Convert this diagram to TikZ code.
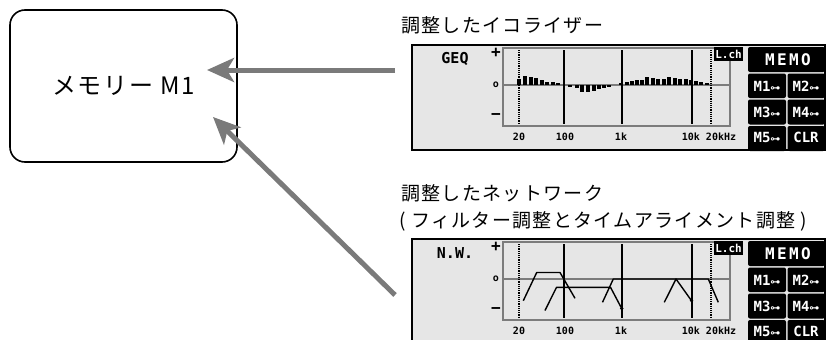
\documentclass[tikz,border=0pt]{standalone}
\usepackage{fontspec}
\newfontfamily\jp{Noto Sans CJK JP}
\newfontfamily\lcd{DejaVu Sans Mono}
\newfontfamily\symf{DejaVu Sans}
\usetikzlibrary{arrows.meta}
\definecolor{panelbg}{HTML}{E6E6E6}
\definecolor{axisgray}{HTML}{7C7C7C}
\definecolor{arrowgray}{HTML}{7A7A7A}
\tikzset{
  lbl/.style={font=\jp\fontsize{19}{23}\selectfont\addfontfeature{LetterSpace=7}, inner sep=0pt, anchor=west},
  memnode/.style={draw=black, line width=1.6pt, rounded corners=15pt, minimum width=227pt, minimum height=152pt,
    font=\jp\fontsize{24}{28}\selectfont\addfontfeature{LetterSpace=7}, inner sep=0pt},
  conn/.style={draw=arrowgray, line width=5pt, -{Stealth[length=27pt,width=24pt,inset=7pt]}},
  panelbox/.style={draw=black, line width=1.5pt, fill=panelbg},
  graphbox/.style={draw=axisgray, line width=1.2pt},
  vline/.style={draw=black, line width=1.3pt},
  dotline/.style={draw=black, line width=1.2pt, dash pattern=on 1.1pt off 1.1pt},
  lcdtitle/.style={font=\lcd\bfseries\fontsize{15}{17}\selectfont, inner sep=0pt},
  lcdaxis/.style={font=\lcd\bfseries\fontsize{16}{18}\selectfont, inner sep=0pt},
  lcdfreq/.style={font=\lcd\bfseries\fontsize{10}{12}\selectfont, inner sep=0pt},
  btn/.style={fill=black, rounded corners=2pt},
  btntxt/.style={text=white, font=\lcd\bfseries\fontsize{14}{16}\selectfont, inner sep=0pt},
  memotxt/.style={text=white, font=\lcd\bfseries\fontsize{16}{18}\selectfont\addfontfeature{LetterSpace=15}, inner sep=0pt},
  lchnode/.style={fill=black, text=white, font=\lcd\bfseries\fontsize{11}{13}\selectfont, inner sep=0pt,
    minimum width=29pt, minimum height=14pt},
  curve/.style={draw=black, line width=1.4pt, line join=round},
}
\newcommand\ico{{\symf\fontsize{10}{10}\selectfont ⊶}}
\newcommand\lcdpanel[3]{%
\begin{scope}[yshift=-#3pt]
  \draw[panelbox] (412,45) rectangle (825,150);
  \draw[graphbox] (503,48) rectangle (730,126);
  \draw[draw=axisgray, line width=1.2pt] (503,85) -- (730,85);
  \draw[dotline] (519,50) -- (519,124);
  \draw[dotline] (711,50) -- (711,124);
  \draw[vline] (564,50) -- (564,124);
  \draw[vline] (622,50) -- (622,124);
  \draw[vline] (692,50) -- (692,124);
  \node[lcdtitle] (#1-title) at (455,59) {#2};
  \node[lcdaxis] (#1-plus) at (496,53) {+};
  \node[lcdfreq] (#1-zero) at (496,85) {o};
  \node[lcdaxis] (#1-minus) at (496,117) {−};
  \node[lcdfreq] (#1-f20) at (519,137) {20};
  \node[lcdfreq] (#1-f100) at (565,137) {100};
  \node[lcdfreq] (#1-f1k) at (621,137) {1k};
  \node[lcdfreq] (#1-f10k) at (709,137) {10k 20kHz};
  \node[lchnode] (#1-lch) at (728.5,54) {L.ch};
  \fill[btn] (748,47) rectangle (825,72);
  \fill[btn] (748,73.5) rectangle (786,98);
  \fill[btn] (787.5,73.5) rectangle (825,98);
  \fill[btn] (748,99.5) rectangle (786,124.5);
  \fill[btn] (787.5,99.5) rectangle (825,124.5);
  \fill[btn] (748,126) rectangle (786,151);
  \fill[btn] (787.5,126) rectangle (825,151);
  \node[memotxt] (#1-memo) at (788,59.5) {MEMO};
  \node[btntxt] (#1-m1) at (767,86) {M1\ico};
  \node[btntxt] (#1-m2) at (806,86) {M2\ico};
  \node[btntxt] (#1-m3) at (767,112) {M3\ico};
  \node[btntxt] (#1-m4) at (806,112) {M4\ico};
  \node[btntxt] (#1-m5) at (767,137.5) {M5\ico};
  \node[btntxt] (#1-clr) at (806,137.5) {CLR};
\end{scope}}
\begin{document}
\begin{tikzpicture}[x=1pt,y=-1pt]
\useasboundingbox (0,0) rectangle (833,340);
\clip (0,0) rectangle (833,340);
% memory box
\node[memnode] (mem) at (123.5,86) {メモリー M1};
% captions
\node[lbl] (geqcap) at (401,25) {調整したイコライザー};
\node[lbl] (nwcap1) at (401,193) {調整したネットワーク};
\node[lbl] (nwcap2) at (399,221) {( フィルター調整とタイムアライメント調整 )};
% panels
\lcdpanel{geq}{GEQ}{0}
\lcdpanel{nw}{N.W.}{194}
% GEQ bars
\foreach \x/\h in {519/5.7,525.3/9,530.7/8.3,536.3/6.7,541.7/5,547/3.3,553/2.7,558.3/2.3,
  570/-1.7,576.7/-3.3,582.3/-6.7,588.3/-6.7,594/-6,599/-4.3,604/-2.7,608.7/-1.7,
  621/1.7,626.7/3,631.7/4,636.7/4.7,642/5,647.3/8.3,653/7.3,658.3/5.7,663.7/5.7,669.3/8,
  675/7.3,680.3/5.7,685.7/5.7,691/4.7,696.3/4,701.3/3,706.7/2.3}
  {\fill[black] ({\x-2.1},85) rectangle ({\x+2.1},{85-(\h)});}
% N.W. curves
\draw[curve] (523.3,300.7) -- (536.7,272.5) -- (560,272.5) -- (575,298.3);
\draw[curve] (545,310.5) -- (556.5,287.3) -- (610.5,287.3) -- (621.7,308.5);
\fill[black] (621.7,308.5) circle (1.8);
\draw[curve] (602.5,302.3) -- (613.3,279) -- (708.3,279) -- (718.3,302.3);
\draw[curve] (664.3,302.3) -- (676,279) -- (691.5,300.7);
\fill[black] (691.5,300.7) circle (1.8);
% connectors
\coordinate (a1s) at (395,70);
\coordinate (a1t) at (207,70);
\coordinate (a2s) at (395,295);
\coordinate (a2t) at (213,117);
\draw[conn] (a1s) -- (a1t);
\draw[conn] (a2s) -- (a2t);
\end{tikzpicture}
\end{document}
